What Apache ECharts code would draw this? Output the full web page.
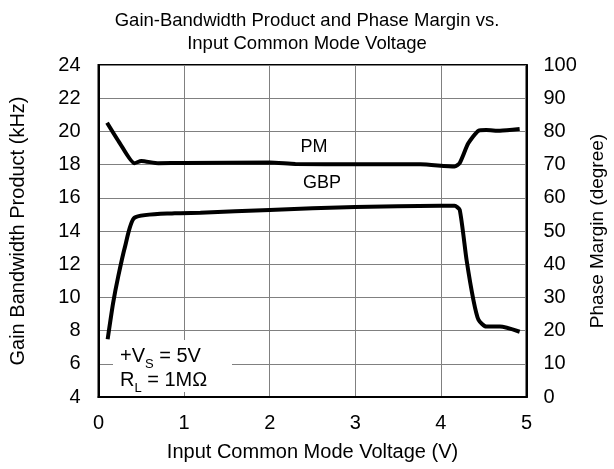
<!DOCTYPE html>
<html>
<head>
<meta charset="utf-8">
<script src="https://cdn.jsdelivr.net/npm/echarts@6/dist/echarts.min.js"></script>
<style>
html,body{margin:0;padding:0;background:#fff;}
#c{width:614px;height:469px;}
</style>
</head>
<body>
<div id="c"></div>
<script>
// Input common mode voltage (V)
var gbpX = [0.107, 0.17, 0.23, 0.31, 0.42, 0.89, 1.19, 2.0, 3.0, 3.99, 4.16, 4.22, 4.30, 4.38, 4.44, 4.53, 4.69, 4.92];
// Gain bandwidth product (kHz)
var gbpY = [7.48, 9.64, 11.25, 13.06, 14.8, 15.07, 15.1, 15.27, 15.45, 15.52, 15.52, 15.27, 12.25, 9.84, 8.64, 8.24, 8.24, 7.93];
// Phase margin curve
var pmX = [0.10, 0.25, 0.42, 0.50, 0.70, 1.0, 2.0, 2.3, 3.0, 3.76, 4.16, 4.22, 4.32, 4.44, 4.53, 4.69, 4.92];
var pmY = [82.6, 76.4, 70.4, 71.1, 70.4, 70.5, 70.6, 70.2, 70.1, 70.1, 69.4, 70.5, 76.4, 80.2, 80.4, 80.2, 80.7];

var titleLines = ['Gain-Bandwidth Product and Phase Margin vs.', 'Input Common Mode Voltage'];
var xName = 'Input Common Mode Voltage (V)';
var yLeftName = 'Gain Bandwidth Product (kHz)';
var yRightName = 'Phase Margin (degree)';

function pairs(xs, ys){ return xs.map(function(x,i){ return [x, ys[i]]; }); }

var FONT = 'Liberation Sans, Arial, sans-serif';
var chart = echarts.init(document.getElementById('c'), null, {renderer:'canvas'});
chart.setOption({
  animation: false,
  backgroundColor: '#fff',
  title: {
    text: titleLines.join('\n'),
    left: 'center', top: 4,
    textStyle: {fontFamily: FONT, fontSize: 18.5, fontWeight: 'normal', color: '#000', lineHeight: 23}
  },
  grid: {left: 98.5, right: 87.5, top: 65, bottom: 72, show: true, borderColor: '#000', borderWidth: 2, backgroundColor: 'transparent', containLabel: false, outerBoundsMode: 'none'},
  xAxis: {
    type: 'value', min: 0, max: 5, interval: 1,
    name: xName, nameLocation: 'middle', nameGap: 45,
    nameTextStyle: {fontFamily: FONT, fontSize: 20, color: '#000'},
    axisLine: {show: true, lineStyle: {color: '#000', width: 2}},
    axisTick: {show: false},
    axisLabel: {fontFamily: FONT, fontSize: 20, color: '#000', margin: 16},
    splitLine: {show: true, lineStyle: {color: '#808080', width: 1}}
  },
  yAxis: [{
    type: 'value', min: 4, max: 24, interval: 2,
    name: yLeftName, nameLocation: 'middle', nameGap: 70, nameRotate: 90,
    nameTextStyle: {fontFamily: FONT, fontSize: 20, color: '#000'},
    axisLine: {show: true, lineStyle: {color: '#000', width: 2}},
    axisTick: {show: false},
    axisLabel: {fontFamily: FONT, fontSize: 20, color: '#000', margin: 18},
    splitLine: {show: true, lineStyle: {color: '#808080', width: 1}}
  }, {
    type: 'value', min: 0, max: 100, interval: 10, position: 'right',
    name: yRightName, nameLocation: 'middle', nameGap: 62, nameRotate: 90,
    nameTextStyle: {fontFamily: FONT, fontSize: 19, color: '#000'},
    axisLine: {show: true, lineStyle: {color: '#000', width: 2}},
    axisTick: {show: false},
    axisLabel: {fontFamily: FONT, fontSize: 20, color: '#000', margin: 17},
    splitLine: {show: false}
  }],
  series: [{
    type: 'line', name: 'GBP', data: pairs(gbpX, gbpY), yAxisIndex: 0,
    showSymbol: false, smooth: 0.2, lineStyle: {color: '#000', width: 4}
  }, {
    type: 'line', name: 'PM', data: pairs(pmX, pmY), yAxisIndex: 1,
    showSymbol: false, smooth: 0.2, lineStyle: {color: '#000', width: 4}
  }],
  graphic: [
    {type: 'text', x: 314, y: 147, z: 100, style: {text: 'PM', fontFamily: FONT, fontSize: 18, fill: '#000', align: 'center', verticalAlign: 'middle', backgroundColor: '#fff', padding: [1,3]}},
    {type: 'text', x: 322, y: 183, z: 100, style: {text: 'GBP', fontFamily: FONT, fontSize: 18, fill: '#000', align: 'center', verticalAlign: 'middle', backgroundColor: '#fff', padding: [1,3]}},
    {type: 'rect', z: 99, shape: {x: 113, y: 340, width: 119, height: 52}, style: {fill: '#fff'}},
    {type: 'text', x: 120, y: 342, z: 100, style: {
      text: '{a|+V}{s|S}{a| = 5V}\n{a|R}{s|L}{a| = 1MΩ}',
      fontFamily: FONT,
      rich: {
        a: {fontFamily: FONT, fontSize: 20, color: '#000', lineHeight: 24, verticalAlign: 'bottom'},
        s: {fontFamily: FONT, fontSize: 13, color: '#000', lineHeight: 24, verticalAlign: 'bottom', padding: [0,0,-5,0]}
      }
    }}
  ]
});
</script>
</body>
</html>
